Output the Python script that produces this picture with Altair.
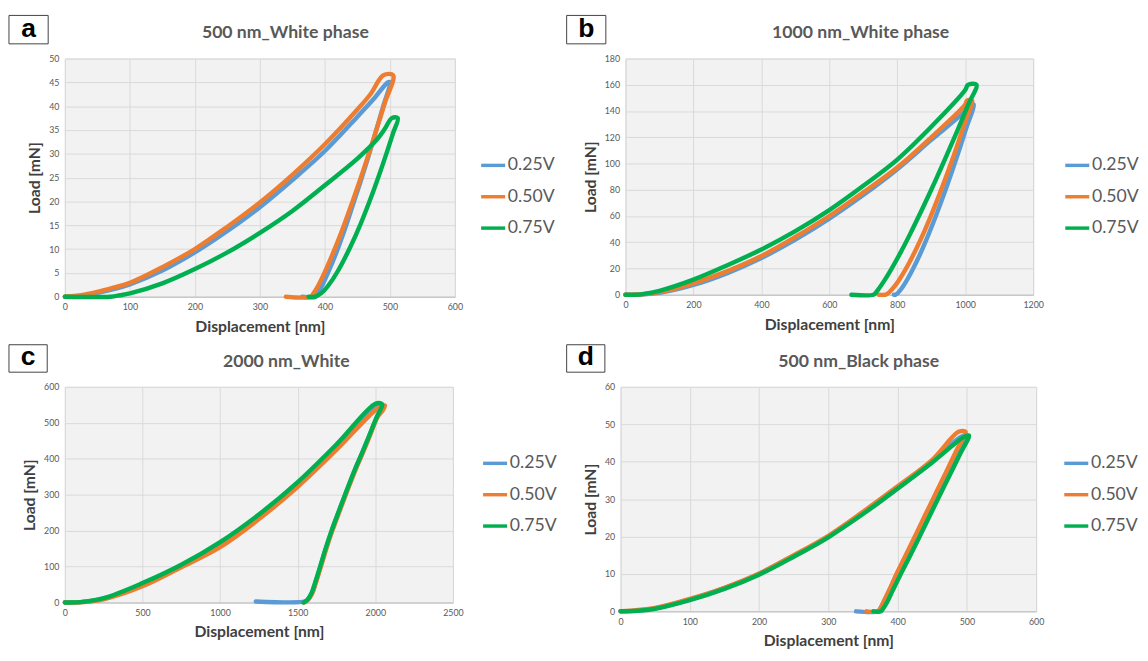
import altair as alt
import pandas as pd

SERIES = ["0.25V", "0.50V", "0.75V"]
COLORS = ["#5B9BD5", "#ED7D31", "#00B050"]

# ---------------- panel a : 500 nm_White phase ----------------
A_X_025 = [0, 25, 50, 75, 100, 150, 200, 250, 300, 350, 400, 450, 475, 497, 500, 490, 478, 466, 454, 442, 430, 418, 406, 396, 390, 386, 365]
A_Y_025 = [0, 0.2, 0.8, 1.6, 2.6, 5.5, 9.3, 13.8, 18.8, 24.5, 30.6, 37.8, 41.5, 45, 45, 40.1, 34.5, 29, 23.8, 18.8, 13.9, 9.4, 5.4, 2.4, 0.9, 0, 0]
A_X_050 = [0, 25, 50, 75, 100, 150, 200, 250, 300, 350, 400, 450, 470, 490, 505, 492, 480, 467, 455, 442, 425, 412, 400, 390, 382, 378, 340]
A_Y_050 = [0, 0.3, 1, 1.9, 2.9, 6.2, 10, 14.7, 19.8, 25.6, 32, 39.3, 42.5, 46.5, 46.5, 40.6, 35.4, 29.8, 24.9, 19.8, 13.4, 9, 5.2, 2.4, 0.6, 0, 0]
A_X_075 = [0, 70, 85, 100, 150, 200, 250, 300, 350, 400, 450, 480, 492, 503, 512, 505, 495, 483, 470, 455, 440, 420, 405, 395, 385, 375]
A_Y_075 = [0, 0, 0.3, 0.7, 2.8, 5.8, 9.3, 13.4, 18, 23.4, 29, 33, 35.2, 37.5, 37.5, 34.4, 30.2, 25.4, 20.5, 15.3, 10.7, 5.4, 2.3, 0.8, 0, 0]

# ---------------- panel b : 1000 nm_White phase ----------------
B_X_025 = [0, 50, 100, 200, 300, 400, 500, 600, 700, 800, 900, 1000, 1015, 1025, 1005, 985, 965, 940, 915, 890, 865, 845, 825, 810, 800, 795, 790]
B_Y_025 = [0, 0.3, 1.5, 7.5, 16.5, 28, 42, 58, 76, 95.7, 118, 140, 145, 145, 128.5, 112.4, 97, 78.5, 61, 44.7, 29.7, 19, 9.6, 3.8, 0.9, 0, 0]
B_X_050 = [0, 50, 100, 200, 300, 400, 500, 600, 700, 800, 900, 1000, 1005, 1020, 1000, 980, 962, 940, 910, 881, 855, 830, 805, 790, 778, 770, 765, 745]
B_Y_050 = [0, 0.4, 2, 8.75, 18, 29.5, 44, 60, 78, 97, 120, 145, 148, 148, 132, 116.5, 103, 87.4, 67.2, 49.1, 34.5, 21.9, 11.1, 5.8, 2.3, 0.6, 0, 0]
B_X_075 = [0, 30, 50, 100, 200, 300, 400, 500, 600, 700, 800, 900, 1000, 1008, 1033, 1010, 985, 960, 929, 900, 870, 838, 810, 780, 760, 745, 736, 730, 665]
B_Y_075 = [0, 0, 0.5, 3, 11.5, 22.5, 34.5, 48.5, 64.5, 83, 103, 128, 156, 160, 160, 145.6, 130, 114.9, 96.6, 80, 63.4, 46.4, 32.3, 18.4, 10, 4.4, 1.4, 0, 0]

# ---------------- panel c : 2000 nm_White ----------------
C_X_025 = [0, 100, 250, 500, 750, 1000, 1250, 1500, 1750, 2000, 2040, 2045, 2010, 1960, 1915, 1870, 1820, 1770, 1720, 1680, 1645, 1614, 1590, 1565, 1548, 1230]
C_Y_025 = [0, 1, 11, 51, 102, 163, 240, 330, 435, 548, 550, 550, 515, 462, 415, 370, 315, 258, 200, 148, 98, 55, 25, 8, 3, 3]
C_X_050 = [0, 100, 250, 500, 750, 1000, 1250, 1500, 1750, 2000, 2050, 2062, 2048, 2013, 1963, 1918, 1873, 1823, 1773, 1723, 1683, 1648, 1617, 1593, 1568, 1548, 1543]
C_Y_050 = [0, 0.5, 9, 45, 98, 154, 232, 322, 425, 535, 548, 548, 535, 515, 462, 415, 370, 315, 258, 200, 148, 98, 55, 25, 8, 1, 0]
C_X_075 = [0, 100, 250, 500, 750, 1000, 1250, 1500, 1750, 2000, 2040, 2045, 2008, 1958, 1913, 1868, 1818, 1768, 1718, 1678, 1643, 1612, 1588, 1563, 1543, 1538]
C_Y_075 = [0, 1, 12, 54, 105, 168, 245, 335, 440, 553, 553, 550, 515, 462, 415, 370, 315, 258, 200, 148, 98, 55, 25, 8, 1, 0]

# ---------------- panel d : 500 nm_Black phase ----------------
D_X_025 = [0, 25, 50, 100, 150, 200, 250, 300, 350, 400, 450, 490, 500, 485, 470, 455, 440, 425, 410, 398, 388, 380, 375, 372, 340]
D_Y_025 = [0, 0.2, 0.8, 3.2, 6.2, 10, 14.8, 20, 26.3, 33, 40, 46.5, 47, 41.5, 36, 30.5, 25, 19.5, 14, 9.5, 5.5, 2.5, 0.7, 0, 0]
D_X_050 = [0, 50, 100, 150, 200, 250, 300, 350, 400, 450, 488, 498, 485, 470, 455, 440, 425, 410, 398, 388, 380, 375, 372, 355]
D_Y_050 = [0, 0.9, 3.3, 6.3, 10.1, 15, 20.2, 26.6, 33.4, 40.5, 48, 48, 43, 37.2, 31.5, 25.8, 20, 14.3, 9.8, 5.7, 2.6, 0.8, 0, 0]
D_X_075 = [0, 25, 50, 100, 150, 200, 250, 300, 350, 400, 450, 495, 503, 490, 475, 460, 445, 430, 415, 403, 393, 385, 379, 376, 365]
D_Y_075 = [0, 0.15, 0.7, 3, 6, 9.8, 14.6, 19.8, 26, 32.8, 39.8, 46.5, 47, 42, 36.3, 30.7, 25, 19.3, 13.7, 9.4, 5.6, 2.5, 0.7, 0, 0]

# axis ticks
A_XTICKS = [0, 100, 200, 300, 400, 500, 600]
A_YTICKS = [0, 5, 10, 15, 20, 25, 30, 35, 40, 45, 50]
B_XTICKS = [0, 200, 400, 600, 800, 1000, 1200]
B_YTICKS = [0, 20, 40, 60, 80, 100, 120, 140, 160, 180]
C_XTICKS = [0, 500, 1000, 1500, 2000, 2500]
C_YTICKS = [0, 100, 200, 300, 400, 500, 600]
D_XTICKS = [0, 100, 200, 300, 400, 500, 600]
D_YTICKS = [0, 10, 20, 30, 40, 50, 60]

FONT = "Lato"


def make_df(pairs):
    rows = []
    for s, (xs, ys) in zip(SERIES, pairs):
        for i, (xv, yv) in enumerate(zip(xs, ys)):
            rows.append({"series": s, "x": xv, "y": yv, "i": i})
    return pd.DataFrame(rows)


def panel(pairs, letter, title, xticks, yticks, w, h, box, title_pos, legend_pos):
    df = make_df(pairs)
    lines = alt.Chart(df).mark_line(strokeWidth=4.5, strokeJoin="round", strokeCap="round",
                                    interpolate="catmull-rom").encode(
        x=alt.X("x:Q", scale=alt.Scale(domain=[xticks[0], xticks[-1]], nice=False, zero=False),
                axis=alt.Axis(values=xticks, title="Displacement [nm]", format="d")),
        y=alt.Y("y:Q", scale=alt.Scale(domain=[yticks[0], yticks[-1]], nice=False, zero=False),
                axis=alt.Axis(values=yticks, title="Load [mN]", format="d")),
        color=alt.Color("series:N", scale=alt.Scale(domain=SERIES, range=COLORS),
                        legend=alt.Legend(orient="none", legendX=legend_pos[0], legendY=legend_pos[1],
                                          title=None, symbolType="stroke", symbolSize=600,
                                          symbolStrokeWidth=3.5, labelFontSize=18, labelFont=FONT,
                                          labelColor="#595959", rowPadding=9, labelOffset=1,
                                          padding=0)),
        order="i:Q",
    )
    one = pd.DataFrame({"k": [0]})
    boxm = alt.Chart(one).mark_rect(fill="white", stroke="#404040", strokeWidth=1).encode(
        x=alt.value(box[0]), x2=alt.value(box[1]), y=alt.value(box[2]), y2=alt.value(box[3]))
    letm = alt.Chart(one).mark_text(text=letter, font="Liberation Sans", fontWeight="bold",
                                    fontSize=27, color="black", align="center", baseline="middle").encode(
        x=alt.value((box[0] + box[1]) / 2), y=alt.value((box[2] + box[3]) / 2 - 1))
    titm = alt.Chart(one).mark_text(text=title, font=FONT, fontWeight="bold", fontSize=18,
                                    color="#595959", align="center", baseline="middle").encode(
        x=alt.value(title_pos[0]), y=alt.value(title_pos[1]))
    return alt.layer(lines, boxm, letm, titm).properties(width=w, height=h)


pa = panel([(A_X_025, A_Y_025), (A_X_050, A_Y_050), (A_X_075, A_Y_075)], "a", "500 nm_White phase",
           A_XTICKS, A_YTICKS, 398, 243, (-57, -17, -44, -15), (225, -26), (423, 95))
pb = panel([(B_X_025, B_Y_025), (B_X_050, B_Y_050), (B_X_075, B_Y_075)], "b", "1000 nm_White phase",
           B_XTICKS, B_YTICKS, 416, 241, (-60, -20, -44, -15), (240, -26), (447, 95))
pc = panel([(C_X_025, C_Y_025), (C_X_050, C_Y_050), (C_X_075, C_Y_075)], "c", "2000 nm_White",
           C_XTICKS, C_YTICKS, 396, 220, (-57, -18, -43, -15), (226, -25), (425, 64))
pd_ = panel([(D_X_025, D_Y_025), (D_X_050, D_Y_050), (D_X_075, D_Y_075)], "d", "500 nm_Black phase",
            D_XTICKS, D_YTICKS, 424, 229, (-55, -16, -43, -15), (243, -25), (451, 64))

row1 = alt.hconcat(pa, pb, spacing=174, bounds="flush").resolve_scale(color="independent").resolve_legend(color="independent")
row2 = alt.hconcat(pc, pd_, spacing=171, bounds="flush").resolve_scale(color="independent").resolve_legend(color="independent")

chart = alt.vconcat(row1, row2, spacing=8).resolve_scale(color="independent").resolve_legend(
    color="independent").properties(padding=0, background="white").configure_view(
    fill="#f2f2f2", stroke="#d9d9d9").configure_axis(
    labelFont=FONT, labelFontSize=9, labelColor="#595959", titleFont=FONT, titleFontSize=16,
    titleFontWeight="bold", titleColor="#404040", gridColor="#d9d9d9", gridWidth=1, ticks=False,
    domain=False, labelFlush=False, labelOverlap=False, labelPadding=6).configure_axisX(
    domain=True, domainColor="#bfbfbf", titlePadding=7).configure_axisY(titlePadding=6)

chart.save("out.html", embed_options={"renderer": "svg", "actions": False})
